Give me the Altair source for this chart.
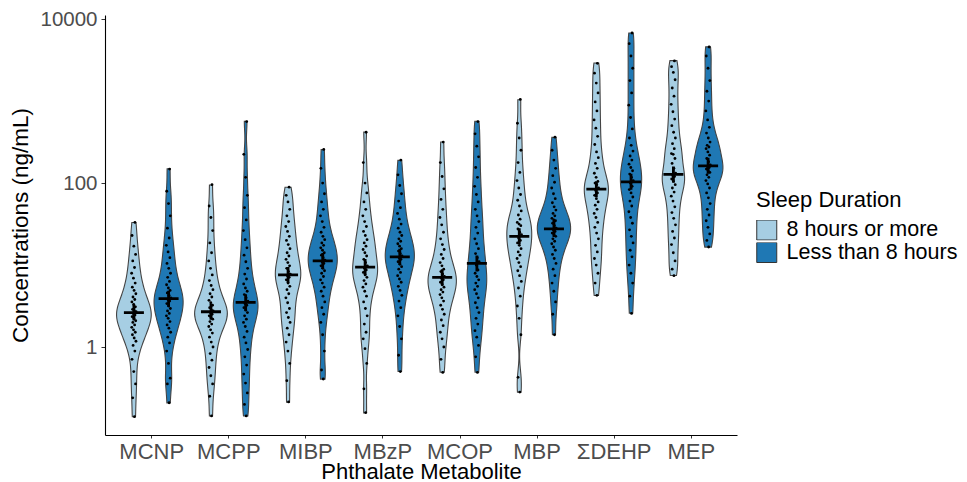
import altair as alt
import pandas as pd

# ---------------- data ----------------
metabolites = ["MCNP", "MCPP", "MIBP", "MBzP", "MCOP", "MBP", "ΣDEHP", "MEP"]
sleep_groups = ["8 hours or more", "Less than 8 hours"]
fill_colors = ["#A6CEE3", "#1F78B4"]

# log10 of concentration (ng/mL), one list per metabolite and sleep group
mcnp_8plus = [-0.85, -0.62, -0.45, -0.3, -0.15, -0.05, 0.02, 0.07, 0.11, 0.15, 0.18, 0.21,
              0.24, 0.27, 0.30, 0.32, 0.35, 0.37, 0.39, 0.41, 0.43, 0.44, 0.46, 0.49, 0.52,
              0.55, 0.58, 0.61, 0.65, 0.69, 0.73, 0.78, 0.84, 0.9, 0.97, 1.05, 1.13, 1.23, 1.36, 1.52]
mcnp_less8 = [-0.68, -0.45, -0.38, -0.2, -0.05, 0.05, 0.12, 0.18, 0.23, 0.27, 0.31, 0.35,
              0.38, 0.41, 0.44, 0.47, 0.50, 0.53, 0.56, 0.58, 0.60, 0.63, 0.66, 0.69, 0.72,
              0.76, 0.80, 0.85, 0.90, 0.96, 1.02, 1.09, 1.16, 1.24, 1.33, 1.45, 1.6, 1.75, 1.9, 2.17]
mcpp_8plus = [-0.84, -0.6, -0.45, -0.35, -0.25, -0.16, -0.08, 0.0, 0.06, 0.12, 0.17, 0.21,
              0.25, 0.28, 0.31, 0.34, 0.36, 0.38, 0.40, 0.42, 0.44, 0.45, 0.48, 0.51, 0.54,
              0.57, 0.61, 0.65, 0.70, 0.75, 0.81, 0.88, 0.96, 1.05, 1.15, 1.27, 1.42, 1.58, 1.72, 1.98]
mcpp_less8 = [-0.84, -0.7, -0.56, -0.44, -0.33, -0.22, -0.12, -0.03, 0.05, 0.12, 0.19, 0.25,
              0.30, 0.34, 0.38, 0.42, 0.45, 0.48, 0.51, 0.53, 0.56, 0.60, 0.64, 0.68, 0.72,
              0.77, 0.83, 0.89, 0.96, 1.04, 1.12, 1.21, 1.31, 1.42, 1.55, 1.7, 1.85, 2.07, 2.35, 2.75]
mibp_8plus = [-0.67, -0.41, -0.2, -0.05, 0.06, 0.15, 0.23, 0.30, 0.36, 0.42, 0.47, 0.54,
              0.60, 0.65, 0.70, 0.74, 0.78, 0.82, 0.85, 0.87, 0.89, 0.92, 0.96, 0.99, 1.03,
              1.07, 1.11, 1.15, 1.20, 1.25, 1.30, 1.35, 1.41, 1.47, 1.53, 1.60, 1.68, 1.77, 1.85, 1.95]
mibp_less8 = [-0.39, -0.28, -0.05, 0.15, 0.3, 0.4, 0.48, 0.55, 0.62, 0.68, 0.73, 0.78,
              0.82, 0.86, 0.90, 0.93, 0.96, 0.99, 1.02, 1.04, 1.06, 1.09, 1.12, 1.15, 1.18,
              1.21, 1.24, 1.27, 1.31, 1.35, 1.40, 1.46, 1.53, 1.60, 1.68, 1.77, 1.87, 2.0, 2.18, 2.41]
mbzp_8plus = [-0.80, -0.51, -0.2, -0.02, 0.1, 0.18, 0.28, 0.38, 0.47, 0.55, 0.62, 0.68,
              0.73, 0.77, 0.81, 0.85, 0.88, 0.91, 0.94, 0.96, 0.99, 1.03, 1.07, 1.11, 1.15,
              1.19, 1.23, 1.27, 1.31, 1.36, 1.41, 1.47, 1.53, 1.60, 1.68, 1.77, 1.88, 2.0, 2.25, 2.62]
mbzp_less8 = [-0.30, -0.1, 0.1, 0.25, 0.38, 0.48, 0.56, 0.63, 0.69, 0.74, 0.79, 0.83,
              0.87, 0.91, 0.95, 0.98, 1.01, 1.04, 1.07, 1.09, 1.11, 1.14, 1.17, 1.20, 1.23,
              1.26, 1.29, 1.32, 1.36, 1.40, 1.45, 1.50, 1.56, 1.63, 1.70, 1.78, 1.87, 1.97, 2.1, 2.28]
mcop_8plus = [-0.31, -0.15, 0.0, 0.1, 0.18, 0.26, 0.33, 0.40, 0.46, 0.51, 0.56, 0.60,
              0.64, 0.67, 0.70, 0.73, 0.76, 0.79, 0.82, 0.84, 0.86, 0.89, 0.92, 0.95, 0.99,
              1.03, 1.08, 1.13, 1.19, 1.25, 1.32, 1.40, 1.49, 1.58, 1.68, 1.80, 1.93, 2.08, 2.25, 2.5]
mcop_less8 = [-0.31, -0.12, 0.02, 0.12, 0.2, 0.28, 0.35, 0.42, 0.48, 0.54, 0.60, 0.65,
              0.70, 0.74, 0.78, 0.82, 0.86, 0.90, 0.94, 1.0, 1.04, 1.09, 1.14, 1.20, 1.26,
              1.32, 1.39, 1.46, 1.53, 1.60, 1.68, 1.77, 1.86, 1.96, 2.07, 2.19, 2.32, 2.45, 2.6, 2.75]
mbp_8plus = [-0.55, -0.37, 0.15, 0.35, 0.5, 0.62, 0.72, 0.80, 0.87, 0.93, 0.98, 1.03,
             1.08, 1.12, 1.16, 1.20, 1.24, 1.27, 1.30, 1.33, 1.37, 1.40, 1.44, 1.48, 1.50,
             1.52, 1.56, 1.61, 1.66, 1.72, 1.79, 1.86, 1.94, 2.03, 2.13, 2.25, 2.4, 2.55, 2.73, 3.02]
mbp_less8 = [0.15, 0.4, 0.55, 0.68, 0.78, 0.87, 0.95, 1.02, 1.08, 1.13, 1.18, 1.22,
             1.26, 1.29, 1.32, 1.35, 1.37, 1.39, 1.41, 1.43, 1.45, 1.48, 1.51, 1.54, 1.55,
             1.57, 1.60, 1.63, 1.67, 1.71, 1.76, 1.81, 1.87, 1.94, 2.01, 2.09, 2.18, 2.28, 2.4, 2.56]
dehp_8plus = [0.63, 0.78, 0.9, 1.0, 1.08, 1.16, 1.24, 1.32, 1.39, 1.46, 1.52, 1.58,
              1.63, 1.68, 1.73, 1.77, 1.81, 1.85, 1.88, 1.91, 1.94, 1.98, 2.0, 2.02, 2.07,
              2.12, 2.18, 2.24, 2.31, 2.38, 2.47, 2.57, 2.67, 2.77, 2.88, 2.99, 3.1, 3.22, 3.34, 3.46]
dehp_less8 = [0.41, 0.62, 0.78, 0.9, 1.0, 1.1, 1.18, 1.27, 1.35, 1.43, 1.51, 1.58,
              1.65, 1.72, 1.78, 1.83, 1.88, 1.92, 1.96, 2.0, 2.03, 2.07, 2.11, 2.15, 2.19,
              2.23, 2.28, 2.33, 2.39, 2.46, 2.55, 2.66, 2.8, 2.95, 3.1, 3.25, 3.4, 3.55, 3.7, 3.83]
mep_8plus = [0.87, 0.95, 1.05, 1.15, 1.25, 1.33, 1.41, 1.49, 1.57, 1.64, 1.71, 1.78,
             1.84, 1.89, 1.94, 1.98, 2.02, 2.05, 2.08, 2.09, 2.12, 2.18, 2.24, 2.30, 2.35,
             2.36, 2.42, 2.48, 2.55, 2.62, 2.7, 2.78, 2.87, 2.96, 3.06, 3.16, 3.26, 3.35, 3.42, 3.49]
mep_less8 = [1.22, 1.3, 1.38, 1.46, 1.54, 1.61, 1.68, 1.75, 1.82, 1.88, 1.94, 1.99,
             2.03, 2.07, 2.10, 2.13, 2.15, 2.17, 2.19, 2.2, 2.22, 2.26, 2.30, 2.34, 2.38,
             2.42, 2.44, 2.46, 2.50, 2.55, 2.61, 2.68, 2.77, 2.88, 3.0, 3.12, 3.25, 3.4, 3.55, 3.66]

series = [
    (mcnp_8plus, mcnp_less8), (mcpp_8plus, mcpp_less8), (mibp_8plus, mibp_less8),
    (mbzp_8plus, mbzp_less8), (mcop_8plus, mcop_less8), (mbp_8plus, mbp_less8),
    (dehp_8plus, dehp_less8), (mep_8plus, mep_less8),
]

rows = []
for i, (m, pair) in enumerate(zip(metabolites, series)):
    for s, arr in zip(sleep_groups, pair):
        for v in arr:
            rows.append({"metabolite": m, "sleep": s, "idx": i + 1, "logc": v})
df = pd.DataFrame(rows)

# ---------------- chart ----------------
FONT = "Liberation Sans"
center_expr = "datum.idx + (datum.sleep == '%s' ? -0.225 : 0.225)" % sleep_groups[0]
label_expr = "[" + ",".join("'%s'" % m for m in metabolites) + "][datum.value - 1]"

xscale = alt.Scale(domain=[0.4, 8.6], nice=False, zero=False)
yscale = alt.Scale(type="log", domain=[0.0845, 11220], nice=False)
cscale = alt.Scale(domain=sleep_groups, range=fill_colors)

xaxis = alt.Axis(values=list(range(1, len(metabolites) + 1)), labelExpr=label_expr,
                 labelFontSize=22, labelColor="#4D4D4D", labelFont=FONT, labelPadding=3,
                 labelOverlap=False, labelFlush=False,
                 tickSize=3, tickColor="#333333", domainColor="#000000", domainWidth=1.1,
                 grid=False, title="Phthalate Metabolite", titleFontSize=22,
                 titleFont=FONT, titleFontWeight="normal", titleColor="#000000",
                 titleY=43.5, titleBaseline="alphabetic")
yaxis = alt.Axis(values=[1, 100, 10000], format="d",
                 labelFontSize=20.5, labelColor="#4D4D4D", labelFont=FONT, labelPadding=4,
                 tickSize=4, tickColor="#333333", domainColor="#000000", domainWidth=1.1,
                 grid=False, title="Concentrations (ng/mL)", titleFontSize=22.5,
                 titleFont=FONT, titleFontWeight="normal", titleColor="#000000",
                 titlePadding=7)
legend = alt.Legend(title="Sleep Duration", orient="none", legendX=651, legendY=175,
                    symbolType="square", symbolSize=400, symbolStrokeColor="#333333",
                    symbolStrokeWidth=1, labelFontSize=21.5, titleFontSize=22,
                    labelFont=FONT, titleFont=FONT, titleFontWeight="normal",
                    labelColor="#000000", titleColor="#000000", labelOffset=9,
                    labelLimit=0, clipHeight=20, rowPadding=0.5, titlePadding=8, padding=0)

base = alt.Chart(df)

violin = base.transform_joinaggregate(
    lo="min(logc)", hi="max(logc)", groupby=["metabolite", "sleep"]
).transform_density(
    "logc", as_=["logc", "density"], groupby=["metabolite", "sleep", "idx", "lo", "hi"],
    bandwidth=0.13, steps=500,
).transform_filter(
    "datum.logc >= datum.lo - 0.005 && datum.logc <= datum.hi + 0.005"
).transform_joinaggregate(
    maxd="max(density)"
).transform_calculate(
    conc="pow(10, datum.logc)", xc=center_expr
).transform_calculate(
    xl="datum.xc - 0.225 * datum.density / datum.maxd",
    xr="datum.xc + 0.225 * datum.density / datum.maxd",
).mark_area(orient="horizontal", stroke="#444444", strokeWidth=1.1, opacity=1).encode(
    y=alt.Y("conc:Q", scale=yscale, axis=yaxis),
    x=alt.X("xl:Q", scale=xscale, axis=xaxis, stack=None),
    x2="xr:Q",
    color=alt.Color("sleep:N", scale=cscale, legend=legend),
    detail="metabolite:N",
)

points = base.transform_window(
    rn="row_number()", groupby=["metabolite", "sleep"]
).transform_calculate(
    conc="pow(10, datum.logc)", xc=center_expr
).transform_calculate(
    xj="datum.xc + ((datum.rn * 0.618034) % 1 - 0.5) * 0.06"
).mark_circle(size=8, color="#000000", opacity=1).encode(
    x=alt.X("xj:Q", scale=xscale),
    y=alt.Y("conc:Q", scale=yscale),
)

median = base.transform_aggregate(
    med="median(logc)", groupby=["metabolite", "sleep", "idx"]
).transform_calculate(
    conc="pow(10, datum.med)", xc=center_expr
).mark_point(shape="M-1,0H1M0,-0.8V0.8", size=400, filled=False, stroke="#000000",
             strokeWidth=2.8, opacity=1).encode(
    x=alt.X("xc:Q", scale=xscale),
    y=alt.Y("conc:Q", scale=yscale),
)

chart = alt.layer(violin, points, median).properties(
    width=632, height=420, autosize="none",
    padding={"left": 97, "top": 7, "right": 221, "bottom": 47},
).configure(font=FONT).configure_view(stroke=None)

chart.save("out.html", embed_options={"renderer": "svg", "actions": False})
